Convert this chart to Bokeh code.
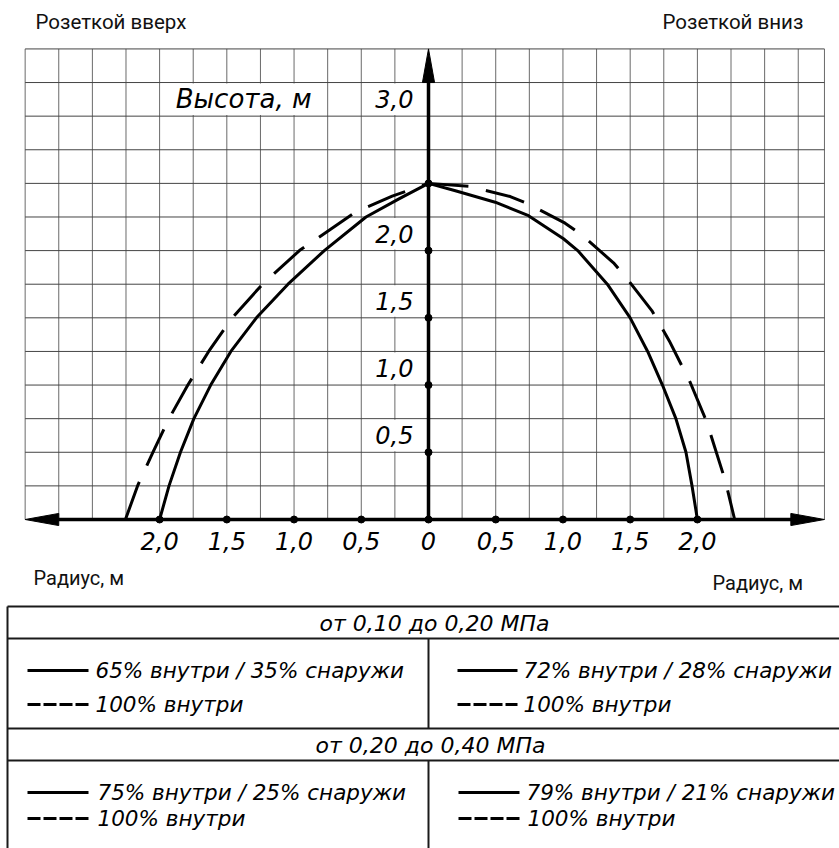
import numpy as np
from bokeh.plotting import figure
from bokeh.models import Range1d
from bokeh.layouts import column
from bokeh.embed import file_html
from bokeh.resources import INLINE
from bokeh.core.properties import value

# ---------------- data ----------------
# left half: "Розеткой вверх" (radius drawn to the left, negative x)
up_solid_r = [-2.0, -1.93, -1.845, -1.745, -1.62, -1.47, -1.28, -1.045, -0.775, -0.465, -0.22, 0.0]
up_solid_h = [0.0, 0.25, 0.5, 0.75, 1.0, 1.25, 1.5, 1.75, 2.0, 2.25, 2.385, 2.5]
up_dash_r = [-2.254, -2.164, -2.05, -1.93, -1.79, -1.635, -1.46, -1.235, -0.96, -0.543, -0.27, 0.0]
up_dash_h = [0.0, 0.25, 0.5, 0.75, 1.0, 1.25, 1.5, 1.75, 2.0, 2.286, 2.405, 2.5]
# right half: "Розеткой вниз"
down_solid_r = [0.0, 0.2, 0.496, 0.744, 1.004, 1.11, 1.33, 1.50, 1.63, 1.74, 1.84, 1.915, 1.96, 2.0]
down_solid_h = [2.5, 2.445, 2.36, 2.26, 2.088, 2.0, 1.75, 1.5, 1.25, 1.0, 0.75, 0.5, 0.25, 0.0]
down_dash_r = [0.0, 0.298, 0.608, 0.739, 1.016, 1.136, 1.376, 1.468, 1.661, 1.79, 1.946, 2.07, 2.207, 2.277]
down_dash_h = [2.5, 2.479, 2.402, 2.348, 2.204, 2.12, 1.909, 1.802, 1.554, 1.33, 1.021, 0.724, 0.29, 0.0]

x_tick_vals = [-2.0, -1.5, -1.0, -0.5, 0.0, 0.5, 1.0, 1.5, 2.0]
x_tick_labels = ["2,0", "1,5", "1,0", "0,5", "0", "0,5", "1,0", "1,5", "2,0"]
y_tick_vals = [0.5, 1.0, 1.5, 2.0, 3.0]
y_tick_labels = ["0,5", "1,0", "1,5", "2,0", "3,0"]
y_dot_vals = [0.5, 1.0, 1.5, 2.0, 2.5]

headers = ["от 0,10 до 0,20 МПа", "от 0,20 до 0,40 МПа"]
solid_labels = ["65% внутри / 35% снаружи", "72% внутри / 28% снаружи",
                "75% внутри / 25% снаружи", "79% внутри / 21% снаружи"]
dash_label = "100% внутри"

# ---------------- chart ----------------
W = 839
H1 = 600
PX = 134.45           # pixels per metre
OX, OY = 428, 519     # origin position inside the figure (pixels)

def fx(px):
    return (px - OX) / PX

def fy(py):
    return (OY - py) / PX

ITAL = value("DejaVu Sans")
UP = value("Roboto")

p = figure(width=W, height=H1,
           x_range=Range1d(-OX / PX, (W - OX) / PX),
           y_range=Range1d(-(H1 - OY) / PX, OY / PX),
           output_backend="svg", toolbar_location=None,
           x_axis_location=None, y_axis_location=None,
           min_border=0, outline_line_color=None)
p.grid.visible = False
p.background_fill_color = "white"
p.border_fill_color = "white"

GX0, GX1, GY1 = -3.0, 2.945, 3.5
vx = list(np.arange(-3.0, 2.9, 0.25)) + [GX1]
p.segment(x0=vx, y0=0, x1=vx, y1=GY1, line_color="#6a6a6a", line_width=1)
hy = list(np.arange(0.25, 3.5001, 0.25))
p.segment(x0=GX0, y0=hy, x1=GX1, y1=hy, line_color="#444444", line_width=1)

# white boxes behind the labels
e = 0.008
p.quad(left=-0.5 + e, right=-0.012, bottom=[v + e for v in y_tick_vals],
       top=[v + 0.25 - e for v in y_tick_vals], fill_color="white", line_color=None)
p.quad(left=-2.0 + e, right=-0.75 - e, bottom=3.0 + e, top=3.25 - e,
       fill_color="white", line_color=None)

# curves
p.line(up_solid_r, up_solid_h, line_color="black", line_width=3, line_join="round")
p.line(down_solid_r, down_solid_h, line_color="black", line_width=3, line_join="round")
p.line(up_dash_r, up_dash_h, line_color="black", line_width=3, line_dash="40 18",
       line_join="round")
p.line(down_dash_r, down_dash_h, line_color="black", line_width=3, line_dash="40 18",
       line_join="round")

# axes with arrows
AL = 0.25
AW = 0.045
p.segment(x0=GX0 + AL * 0.5, y0=0, x1=GX1 - AL * 0.5, y1=0, line_color="black", line_width=3.5)
p.segment(x0=0, y0=0, x1=0, y1=GY1 - AL * 0.5, line_color="black", line_width=3.5)
p.patches(xs=[[GX0, GX0 + AL, GX0 + AL], [GX1, GX1 - AL, GX1 - AL], [0, -AW, AW]],
          ys=[[0, AW, -AW], [0, AW, -AW], [GY1, GY1 - AL, GY1 - AL]],
          fill_color="black", line_color="black", line_width=1)
p.scatter(x=x_tick_vals, y=[0] * len(x_tick_vals), size=7, color="black")
p.scatter(x=[0] * len(y_dot_vals), y=y_dot_vals, size=7, color="black")

# tick labels
p.text(x=x_tick_vals, y=[0] * len(x_tick_vals), text=x_tick_labels, text_align="center",
       text_baseline="middle", y_offset=21, text_font=ITAL, text_font_style="italic",
       text_font_size="24px", text_color="black")
p.text(x=[0] * len(y_tick_vals), y=[v + 0.125 for v in y_tick_vals], text=y_tick_labels,
       text_align="right", text_baseline="middle", x_offset=-15, y_offset=0,
       text_font=ITAL, text_font_style="italic", text_font_size="24px", text_color="black")
p.text(x=[-1.375], y=[3.125], text=["Высота, м"], text_align="center", text_baseline="middle",
       text_font=ITAL, text_font_style="italic", text_font_size="26px", text_color="black")

p.text(x=[fx(35), fx(662)], y=[fy(21), fy(21)], text=["Розеткой вверх", "Розеткой вниз"],
       text_align="left", text_baseline="middle", text_font=UP, text_font_size="20.5px",
       text_color="#111111")
p.text(x=[fx(33), fx(712)], y=[fy(577), fy(582)], text=["Радиус, м", "Радиус, м"],
       text_align="left", text_baseline="middle", text_font=UP, text_font_size="20px",
       text_color="#111111")

# ---------------- table ----------------
H2 = 848 - H1
t = figure(width=W, height=H2, x_range=Range1d(0, W), y_range=Range1d(848, H1),
           output_backend="svg", toolbar_location=None,
           x_axis_location=None, y_axis_location=None,
           min_border=0, outline_line_color=None)
t.grid.visible = False
t.background_fill_color = "white"
t.border_fill_color = "white"

hl = [606, 638, 728, 760]
t.segment(x0=[7] * 4, y0=hl, x1=[900] * 4, y1=hl, line_color="#1a1a1a", line_width=2)
t.segment(x0=[7, 428, 428], y0=[606, 638, 760], x1=[7, 428, 428], y1=[900, 728, 900],
          line_color="#1a1a1a", line_width=2)

t.text(x=[434, 430], y=[623, 745], text=headers, text_align="center",
       text_baseline="middle", text_font=ITAL, text_font_style="italic",
       text_font_size="22px", text_color="black")

line_x0 = [27, 457, 27, 458]
line_x1 = [88, 517, 88, 519]
txt_x_s = [95, 523, 97, 526]
txt_x_d = [95, 523, 97, 527]
solid_y = [670, 670, 792, 792]
dash_y = [704, 704, 818, 818]

t.segment(x0=line_x0, y0=solid_y, x1=line_x1, y1=solid_y, line_color="black", line_width=3)
t.segment(x0=line_x0, y0=dash_y, x1=line_x1, y1=dash_y, line_color="black", line_width=3,
          line_dash="13 3")
t.text(x=txt_x_s, y=solid_y, text=solid_labels, text_align="left",
       text_baseline="middle", text_font=ITAL, text_font_style="italic",
       text_font_size="21.5px", text_color="black")
t.text(x=txt_x_d, y=dash_y, text=[dash_label] * 4, text_align="left",
       text_baseline="middle", text_font=ITAL, text_font_style="italic",
       text_font_size="21.5px", text_color="black")

layout = column(p, t, spacing=0)
open("out.html", "w").write(file_html(layout, INLINE))
